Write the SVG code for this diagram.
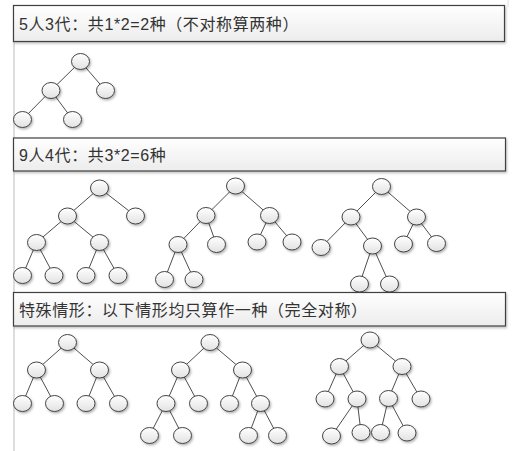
<svg xmlns="http://www.w3.org/2000/svg" width="524" height="451" viewBox="0 0 524 451">
<defs>
<linearGradient id="ng" x1="0" y1="0" x2="0" y2="1"><stop offset="0" stop-color="#ffffff"/><stop offset="1" stop-color="#e2e2e2"/></linearGradient>
<linearGradient id="bg" x1="0" y1="0" x2="0" y2="1"><stop offset="0" stop-color="#ffffff"/><stop offset="1" stop-color="#ececec"/></linearGradient>
<filter id="sh" x="-30%" y="-30%" width="170%" height="170%"><feDropShadow dx="1.2" dy="1.5" stdDeviation="0.9" flood-color="#000" flood-opacity="0.3"/></filter>
<filter id="bsh" x="-5%" y="-20%" width="110%" height="150%"><feDropShadow dx="1" dy="1.5" stdDeviation="1" flood-color="#000" flood-opacity="0.25"/></filter>
</defs>
<style>
.n ellipse{fill:url(#ng);stroke:#333;stroke-width:0.9;filter:url(#sh)}
#connectors line{stroke:#3a3a3a;stroke-width:0.9}
.hb rect{fill:url(#bg);stroke:#404040;stroke-width:1.2;filter:url(#bsh)}
.hb text{font-family:"Liberation Sans","Noto Sans CJK SC",sans-serif;font-size:16px;letter-spacing:0.6px;fill:#333}
</style>
<rect width="524" height="451" fill="#fff"/>
<line x1="14" y1="41" x2="14" y2="451" stroke="#d2d2d2" stroke-width="1.5"/>
<line x1="508" y1="0" x2="508" y2="7" stroke="#e0e0e0" stroke-width="1"/>
<g id="connectors">
<line x1="80.5" y1="61.5" x2="51" y2="90.5"/><line x1="80.5" y1="61.5" x2="105.5" y2="90.5"/>
<line x1="51" y1="90.5" x2="22.5" y2="119.5"/><line x1="51" y1="90.5" x2="72.5" y2="119.5"/>
<line x1="99.5" y1="188" x2="67.5" y2="216"/><line x1="99.5" y1="188" x2="135.5" y2="216"/>
<line x1="67.5" y1="216" x2="36.5" y2="242.5"/><line x1="67.5" y1="216" x2="99.5" y2="242.5"/>
<line x1="36.5" y1="242.5" x2="22.5" y2="275.5"/><line x1="36.5" y1="242.5" x2="54" y2="275.5"/>
<line x1="99.5" y1="242.5" x2="86" y2="275.5"/><line x1="99.5" y1="242.5" x2="118" y2="275.5"/>
<line x1="235.5" y1="186" x2="206" y2="215.5"/><line x1="235.5" y1="186" x2="269.5" y2="215.5"/>
<line x1="206" y1="215.5" x2="178" y2="244.5"/><line x1="206" y1="215.5" x2="216.5" y2="244.5"/>
<line x1="269.5" y1="215.5" x2="257" y2="242"/><line x1="269.5" y1="215.5" x2="292" y2="242"/>
<line x1="178" y1="244.5" x2="164.5" y2="279.5"/><line x1="178" y1="244.5" x2="194" y2="279.5"/>
<line x1="381.5" y1="186.5" x2="351" y2="217"/><line x1="381.5" y1="186.5" x2="416.5" y2="217"/>
<line x1="351" y1="217" x2="321" y2="247.5"/><line x1="351" y1="217" x2="372.5" y2="246"/>
<line x1="416.5" y1="217" x2="403.5" y2="244"/><line x1="416.5" y1="217" x2="436.5" y2="243.5"/>
<line x1="372.5" y1="246" x2="359.5" y2="284"/><line x1="372.5" y1="246" x2="389.5" y2="284"/>
<line x1="67.5" y1="342.5" x2="36.5" y2="370"/><line x1="67.5" y1="342.5" x2="99.5" y2="370"/>
<line x1="36.5" y1="370" x2="22.5" y2="403.5"/><line x1="36.5" y1="370" x2="54.5" y2="403.5"/>
<line x1="99.5" y1="370" x2="86" y2="403.5"/><line x1="99.5" y1="370" x2="118.5" y2="403.5"/>
<line x1="210" y1="342.5" x2="180.5" y2="370"/><line x1="210" y1="342.5" x2="242.5" y2="370"/>
<line x1="180.5" y1="370" x2="166" y2="403.5"/><line x1="180.5" y1="370" x2="198.5" y2="403.5"/>
<line x1="242.5" y1="370" x2="229.5" y2="403.5"/><line x1="242.5" y1="370" x2="260.5" y2="403.5"/>
<line x1="166" y1="403.5" x2="149.5" y2="435.5"/><line x1="166" y1="403.5" x2="182.5" y2="435.5"/>
<line x1="260.5" y1="403.5" x2="248.5" y2="435.5"/><line x1="260.5" y1="403.5" x2="277.5" y2="435.5"/>
<line x1="370" y1="340" x2="339.5" y2="366.5"/><line x1="370" y1="340" x2="402" y2="366.5"/>
<line x1="339.5" y1="366.5" x2="325" y2="399"/><line x1="339.5" y1="366.5" x2="357" y2="399"/>
<line x1="402" y1="366.5" x2="388.5" y2="398.5"/><line x1="402" y1="366.5" x2="421" y2="399"/>
<line x1="357" y1="399" x2="331.5" y2="436"/><line x1="357" y1="399" x2="361" y2="432.5"/>
<line x1="388.5" y1="398.5" x2="380.5" y2="432.5"/><line x1="388.5" y1="398.5" x2="407" y2="433"/>
</g>
<g id="t1-root" class="n"><ellipse cx="80.5" cy="61.5" rx="9" ry="8"/></g>
<g id="t1-l" class="n"><ellipse cx="51" cy="90.5" rx="9" ry="8"/></g>
<g id="t1-r" class="n"><ellipse cx="105.5" cy="90.5" rx="9" ry="8"/></g>
<g id="t1-ll" class="n"><ellipse cx="22.5" cy="119.5" rx="9" ry="8"/></g>
<g id="t1-lr" class="n"><ellipse cx="72.5" cy="119.5" rx="9" ry="8"/></g>

<g id="t2-root" class="n"><ellipse cx="99.5" cy="188" rx="9" ry="8"/></g>
<g id="t2-l" class="n"><ellipse cx="67.5" cy="216" rx="9" ry="8"/></g>
<g id="t2-r" class="n"><ellipse cx="135.5" cy="216" rx="9" ry="8"/></g>
<g id="t2-ll" class="n"><ellipse cx="36.5" cy="242.5" rx="9" ry="8"/></g>
<g id="t2-lr" class="n"><ellipse cx="99.5" cy="242.5" rx="9" ry="8"/></g>
<g id="t2-lll" class="n"><ellipse cx="22.5" cy="275.5" rx="9" ry="8"/></g>
<g id="t2-llr" class="n"><ellipse cx="54" cy="275.5" rx="9" ry="8"/></g>
<g id="t2-lrl" class="n"><ellipse cx="86" cy="275.5" rx="9" ry="8"/></g>
<g id="t2-lrr" class="n"><ellipse cx="118" cy="275.5" rx="9" ry="8"/></g>

<g id="t3-root" class="n"><ellipse cx="235.5" cy="186" rx="9" ry="8"/></g>
<g id="t3-l" class="n"><ellipse cx="206" cy="215.5" rx="9" ry="8"/></g>
<g id="t3-r" class="n"><ellipse cx="269.5" cy="215.5" rx="9" ry="8"/></g>
<g id="t3-ll" class="n"><ellipse cx="178" cy="244.5" rx="9" ry="8"/></g>
<g id="t3-lr" class="n"><ellipse cx="216.5" cy="244.5" rx="9" ry="8"/></g>
<g id="t3-rl" class="n"><ellipse cx="257" cy="242" rx="9" ry="8"/></g>
<g id="t3-rr" class="n"><ellipse cx="292" cy="242" rx="9" ry="8"/></g>
<g id="t3-lll" class="n"><ellipse cx="164.5" cy="279.5" rx="9" ry="8"/></g>
<g id="t3-llr" class="n"><ellipse cx="194" cy="279.5" rx="9" ry="8"/></g>

<g id="t4-root" class="n"><ellipse cx="381.5" cy="186.5" rx="9" ry="8"/></g>
<g id="t4-l" class="n"><ellipse cx="351" cy="217" rx="9" ry="8"/></g>
<g id="t4-r" class="n"><ellipse cx="416.5" cy="217" rx="9" ry="8"/></g>
<g id="t4-ll" class="n"><ellipse cx="321" cy="247.5" rx="9" ry="8"/></g>
<g id="t4-lr" class="n"><ellipse cx="372.5" cy="246" rx="9" ry="8"/></g>
<g id="t4-rl" class="n"><ellipse cx="403.5" cy="244" rx="9" ry="8"/></g>
<g id="t4-rr" class="n"><ellipse cx="436.5" cy="243.5" rx="9" ry="8"/></g>
<g id="t4-lrl" class="n"><ellipse cx="359.5" cy="284" rx="9" ry="8"/></g>
<g id="t4-lrr" class="n"><ellipse cx="389.5" cy="284" rx="9" ry="8"/></g>

<g id="t5-root" class="n"><ellipse cx="67.5" cy="342.5" rx="9" ry="8"/></g>
<g id="t5-l" class="n"><ellipse cx="36.5" cy="370" rx="9" ry="8"/></g>
<g id="t5-r" class="n"><ellipse cx="99.5" cy="370" rx="9" ry="8"/></g>
<g id="t5-ll" class="n"><ellipse cx="22.5" cy="403.5" rx="9" ry="8"/></g>
<g id="t5-lr" class="n"><ellipse cx="54.5" cy="403.5" rx="9" ry="8"/></g>
<g id="t5-rl" class="n"><ellipse cx="86" cy="403.5" rx="9" ry="8"/></g>
<g id="t5-rr" class="n"><ellipse cx="118.5" cy="403.5" rx="9" ry="8"/></g>

<g id="t6-root" class="n"><ellipse cx="210" cy="342.5" rx="9" ry="8"/></g>
<g id="t6-l" class="n"><ellipse cx="180.5" cy="370" rx="9" ry="8"/></g>
<g id="t6-r" class="n"><ellipse cx="242.5" cy="370" rx="9" ry="8"/></g>
<g id="t6-ll" class="n"><ellipse cx="166" cy="403.5" rx="9" ry="8"/></g>
<g id="t6-lr" class="n"><ellipse cx="198.5" cy="403.5" rx="9" ry="8"/></g>
<g id="t6-rl" class="n"><ellipse cx="229.5" cy="403.5" rx="9" ry="8"/></g>
<g id="t6-rr" class="n"><ellipse cx="260.5" cy="403.5" rx="9" ry="8"/></g>
<g id="t6-lll" class="n"><ellipse cx="149.5" cy="435.5" rx="9" ry="8"/></g>
<g id="t6-llr" class="n"><ellipse cx="182.5" cy="435.5" rx="9" ry="8"/></g>
<g id="t6-rrl" class="n"><ellipse cx="248.5" cy="435.5" rx="9" ry="8"/></g>
<g id="t6-rrr" class="n"><ellipse cx="277.5" cy="435.5" rx="9" ry="8"/></g>

<g id="t7-root" class="n"><ellipse cx="370" cy="340" rx="9" ry="8"/></g>
<g id="t7-l" class="n"><ellipse cx="339.5" cy="366.5" rx="9" ry="8"/></g>
<g id="t7-r" class="n"><ellipse cx="402" cy="366.5" rx="9" ry="8"/></g>
<g id="t7-ll" class="n"><ellipse cx="325" cy="399" rx="9" ry="8"/></g>
<g id="t7-lr" class="n"><ellipse cx="357" cy="399" rx="9" ry="8"/></g>
<g id="t7-rl" class="n"><ellipse cx="388.5" cy="398.5" rx="9" ry="8"/></g>
<g id="t7-rr" class="n"><ellipse cx="421" cy="399" rx="9" ry="8"/></g>
<g id="t7-lrl" class="n"><ellipse cx="331.5" cy="436" rx="9" ry="8"/></g>
<g id="t7-lrr" class="n"><ellipse cx="361" cy="432.5" rx="9" ry="8"/></g>
<g id="t7-rll" class="n"><ellipse cx="380.5" cy="432.5" rx="9" ry="8"/></g>
<g id="t7-rlr" class="n"><ellipse cx="407" cy="433" rx="9" ry="8"/></g>

<g id="header1" class="hb"><rect x="13.5" y="5.5" width="491" height="36"/><text x="19" y="30">5人3代：共1*2=2种（不对称算两种）</text></g>
<g id="header2" class="hb"><rect x="13.5" y="138" width="492" height="33"/><text x="19" y="161">9人4代：共3*2=6种</text></g>
<g id="header3" class="hb"><rect x="13.5" y="292.5" width="492" height="33.5"/><text x="19" y="316">特殊情形：以下情形均只算作一种（完全对称）</text></g>
</svg>
